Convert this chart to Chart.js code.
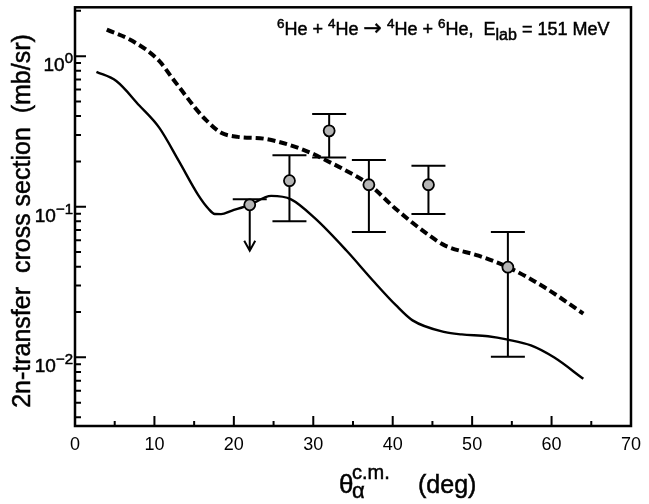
<!DOCTYPE html>
<html>
<head>
<meta charset="utf-8">
<script src="https://cdn.jsdelivr.net/npm/chart.js@4.4.1/dist/chart.umd.min.js"></script>
<style>
  body { margin: 0; background: #fff; }
  canvas { display: block; }
</style>
</head>
<body>
<canvas id="c" width="649" height="504" style="width:649px;height:504px"></canvas>
<script>
// solid curve
const solidX = [2.7, 5.2, 8.1, 10.6, 13.1, 15.5, 16.8, 17.6, 18.4, 19.7, 22.0, 24.7, 27.2, 30.3, 34.2, 37.5, 40.4, 42.5, 46.6, 48.7, 52.0, 54.5, 57.4, 60.3, 64.0];
const solidY = [0.787, 0.683, 0.47, 0.335, 0.2, 0.12, 0.097, 0.0895, 0.0893, 0.094, 0.103, 0.118, 0.112, 0.083, 0.051, 0.0324, 0.0222, 0.0176, 0.0147, 0.0142, 0.0138, 0.0131, 0.012, 0.010, 0.0072];

// dashed curve
const dashX = [4.0, 7.25, 10.6, 12.2, 13.5, 15.1, 16.4, 18.4, 20.5, 23.8, 26.7, 30.1, 31.3, 34.2, 37.0, 40.4, 44.6, 46.6, 50.8, 54.5, 59.1, 64.0];
const dashY = [1.50, 1.26, 0.93, 0.72, 0.586, 0.455, 0.381, 0.31, 0.291, 0.283, 0.26, 0.223, 0.207, 0.173, 0.141, 0.0966, 0.0645, 0.0552, 0.0473, 0.0397, 0.0292, 0.0195];

// data points with errors (first one is an upper limit)
const expX = [22, 27, 32, 37, 44.5, 54.5];
const expY = [0.103, 0.149, 0.319, 0.14, 0.14, 0.0397];
const expHi = [0.112, 0.22, 0.413, 0.204, 0.187, 0.068];
const expLo = [0.051, 0.080, 0.212, 0.068, 0.0895, 0.0101];
const upperLimit = [true, false, false, false, false, false];

const yMajor = [1, 0.1, 0.01];
const yMajorExp = ['0', '\u22121', '\u22122'];
const xTicks = [0, 10, 20, 30, 40, 50, 60, 70];

const toPts = (xs, ys) => xs.map((x, i) => ({ x, y: ys[i] }));
const FONT = '"Liberation Sans", Arial, sans-serif';

// draw a run of text pieces: [text, size, dy, family?]
const drawRun = (ctx, x, y, parts) => {
    let cx = x;
    parts.forEach(([t, size, dy, fam]) => {
        ctx.font = fam ? `${size}px ${fam}` : `${size}px ${FONT}`;
        ctx.lineWidth = 0.5;
        ctx.fillText(t, cx, y + dy);
        ctx.strokeText(t, cx, y + dy);
        cx += ctx.measureText(t).width;
    });
    return cx;
};

const errorBars = {
    id: 'errorBars',
    beforeDatasetsDraw(chart) {
        const { ctx, scales: { x, y } } = chart;
        ctx.save();
        ctx.strokeStyle = '#000';
        ctx.lineWidth = 2;
        expX.forEach((v, i) => {
            const px = x.getPixelForValue(v);
            const pHi = y.getPixelForValue(expHi[i]);
            const pLo = y.getPixelForValue(expLo[i]);
            ctx.beginPath();
            ctx.moveTo(px, pHi);
            ctx.lineTo(px, pLo);
            ctx.moveTo(px - 17, pHi);
            ctx.lineTo(px + 17, pHi);
            if (upperLimit[i]) {
                ctx.moveTo(px - 5.5, pLo - 10);
                ctx.lineTo(px, pLo);
                ctx.lineTo(px + 5.5, pLo - 10);
            } else {
                ctx.moveTo(px - 17, pLo);
                ctx.lineTo(px + 17, pLo);
            }
            ctx.stroke();
        });
        ctx.restore();
    }
};

const frame = {
    id: 'frame',
    afterDraw(chart) {
        const { ctx, chartArea: a, scales: { x, y } } = chart;
        ctx.save();
        ctx.strokeStyle = '#000';
        ctx.fillStyle = '#000';
        ctx.lineWidth = 2.5;
        ctx.strokeRect(a.left, a.top, a.right - a.left, a.bottom - a.top);

        // ticks, pointing inward
        ctx.lineWidth = 2;
        ctx.beginPath();
        for (let v = 0; v <= 70; v += 5) {
            const px = x.getPixelForValue(v);
            const len = v % 10 === 0 ? 10 : 5;
            ctx.moveTo(px, a.bottom);
            ctx.lineTo(px, a.bottom - len);
        }
        for (let e = -3; e <= 0; e++) {
            for (let k = 1; k <= 9; k++) {
                const v = k * Math.pow(10, e);
                if (v < y.min || v > y.max) continue;
                const py = y.getPixelForValue(v);
                ctx.moveTo(a.left, py);
                ctx.lineTo(a.left + (k === 1 ? 11 : 6), py);
            }
        }
        ctx.stroke();

        // y tick labels with exponents
        ctx.textBaseline = 'alphabetic';
        yMajor.forEach((v, i) => {
            const py = y.getPixelForValue(v);
            ctx.font = `15px ${FONT}`;
            const wExp = ctx.measureText(yMajorExp[i]).width;
            ctx.font = `19px ${FONT}`;
            const wBase = ctx.measureText('10').width;
            const x0 = a.left - 2 - wExp - wBase;
            drawRun(ctx, x0, py + 15, [['10', 19, 0], [yMajorExp[i], 15, -8]]);
        });

        // reaction label
        drawRun(ctx, 277, 35, [
            ['6', 13.5, -7], ['He + ', 18, 0], ['4', 13.5, -7], ['He ', 18, 0],
            ['\u2192', 22, 0, '"DejaVu Sans", sans-serif'], [' ', 18, 0],
            ['4', 13.5, -7], ['He + ', 18, 0], ['6', 13.5, -7], ['He,  E', 18, 0],
            ['lab', 16, 5], [' = 151 MeV', 18, 0]
        ]);

        // x title
        drawRun(ctx, 339, 493, [['\u03b8', 26, 0]]);
        drawRun(ctx, 352, 479, [['c.m.', 20, 0]]);
        drawRun(ctx, 352, 498, [['\u03b1', 22, 0]]);
        drawRun(ctx, 418, 493, [['(deg)', 25, 0]]);

        // y title
        ctx.translate(30, 221);
        ctx.rotate(-Math.PI / 2);
        ctx.textAlign = 'center';
        ctx.font = `25px ${FONT}`;
        ctx.lineWidth = 0.5;
        ctx.fillText('2n-transfer  cross section  (mb/sr)', 0, 0);
        ctx.strokeText('2n-transfer  cross section  (mb/sr)', 0, 0);
        ctx.restore();
    }
};

new Chart(document.getElementById('c'), {
    data: {
        datasets: [
            {
                type: 'scatter',
                data: toPts(expX, expY),
                pointRadius: 5.5,
                pointBackgroundColor: '#b4b4b4',
                pointBorderColor: '#000',
                pointBorderWidth: 1.8,
            },
            {
                type: 'line',
                data: toPts(dashX, dashY),
                borderColor: '#000',
                borderWidth: 4,
                borderDash: [8, 4],
                pointRadius: 0,
                cubicInterpolationMode: 'monotone',
                fill: false,
            },
            {
                type: 'line',
                data: toPts(solidX, solidY),
                borderColor: '#000',
                borderWidth: 2.4,
                pointRadius: 0,
                cubicInterpolationMode: 'monotone',
                fill: false,
            },
        ],
    },
    options: {
        responsive: false,
        animation: false,
        layout: { padding: { top: 6, right: 11, left: 0, bottom: 0 } },
        plugins: { legend: { display: false }, tooltip: { enabled: false } },
        scales: {
            x: {
                type: 'linear',
                min: 0,
                max: 70,
                afterBuildTicks: (s) => { s.ticks = xTicks.map((v) => ({ value: v })); },
                ticks: { color: '#000', font: { family: FONT, size: 18 }, padding: 8, maxRotation: 0 },
                grid: { display: false, drawTicks: false },
                border: { display: false },
                afterFit: (s) => { s.height = 78; },
            },
            y: {
                type: 'logarithmic',
                min: 0.0035,
                max: 2.11,
                ticks: { display: false },
                grid: { display: false, drawTicks: false },
                border: { display: false },
                afterFit: (s) => { s.width = 75; },
            },
        },
    },
    plugins: [errorBars, frame],
});
</script>
</body>
</html>
